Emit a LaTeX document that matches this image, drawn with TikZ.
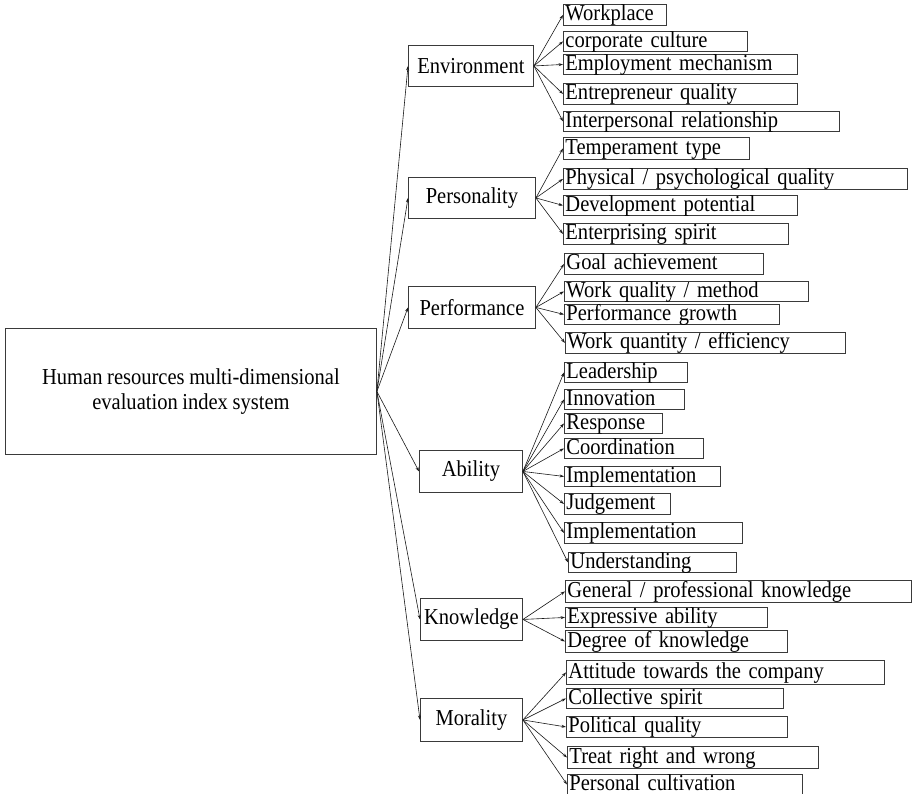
\documentclass[tikz,border=0pt]{standalone}
\usepackage{fontspec}
\setmainfont[FakeStretch=0.9, WordSpace=0.9]{Liberation Serif}
\usetikzlibrary{arrows.meta}
\definecolor{boxc}{HTML}{3A3A3A}
\definecolor{linec}{HTML}{1A1A1A}
\newcommand\dfont{\fontsize{22.8pt}{25.5pt}\selectfont}
\begin{document}
\begin{tikzpicture}[x=1pt,y=-1pt,
  box/.style={draw=boxc, line width=0.9pt, inner sep=0pt, anchor=north west, font=\dfont, align=center},
  leaf/.style={draw=boxc, line width=0.9pt, inner xsep=2pt, inner ysep=0pt, anchor=north west, font=\dfont, align=left, text height=15.8pt, text depth=4.2pt},
  conn/.style={draw=linec, line width=0.6pt, -{Stealth[length=4.5pt,width=3pt]}}]
\useasboundingbox[fill=white] (0,0) rectangle (912,794);

% root
\node[box, minimum width=371pt, minimum height=126pt] (root) at (5,328)
  {Human resources multi-dimensional\\evaluation index system};

% categories
\node[box, minimum width=125pt, minimum height=41pt] (env) at (408,45) {Environment};
\node[box, minimum width=127pt, minimum height=41pt] (per) at (408,177) {Personality};
\node[box, minimum width=127pt, minimum height=42pt] (perf) at (408,286) {Performance};
\node[box, minimum width=103pt, minimum height=42pt] (abi) at (419,450) {Ability};
\node[box, minimum width=102pt, minimum height=42pt] (kno) at (420,598) {Knowledge};
\node[box, minimum width=102pt, minimum height=43pt] (mor) at (420,698) {Morality};

% Environment leaves
\node[leaf, text width=99pt,  minimum height=21pt] (e1) at (563,4)   {Workplace};
\node[leaf, text width=180pt, minimum height=19pt] (e2) at (563,31)  {corporate culture};
\node[leaf, text width=230pt, minimum height=20pt] (e3) at (563,54)  {Employment mechanism};
\node[leaf, text width=230pt, minimum height=21pt] (e4) at (563,83)  {Entrepreneur quality};
\node[leaf, text width=272pt, minimum height=20pt] (e5) at (563,111) {Interpersonal relationship};
% Personality leaves
\node[leaf, text width=182pt, minimum height=22pt] (p1) at (563,137) {Temperament type};
\node[leaf, text width=340pt, minimum height=21pt] (p2) at (563,168) {Physical / psychological quality};
\node[leaf, text width=230pt, minimum height=20pt] (p3) at (563,195) {Development potential};
\node[leaf, text width=221pt, minimum height=21pt] (p4) at (563,223) {Enterprising spirit};
% Performance leaves
\node[leaf, text width=195pt, minimum height=21pt] (f1) at (564,253) {Goal achievement};
\node[leaf, text width=240pt, minimum height=19pt] (f2) at (564,281) {Work quality / method};
\node[leaf, text width=211pt, minimum height=19pt] (f3) at (564,304) {Performance growth};
\node[leaf, text width=276pt, minimum height=21pt] (f4) at (565,332) {Work quantity / efficiency};
% Ability leaves
\node[leaf, text width=119pt, minimum height=19pt] (a1) at (564,362) {Leadership};
\node[leaf, text width=116pt, minimum height=17pt] (a2) at (564,389) {Innovation};
\node[leaf, text width=94pt,  minimum height=20pt] (a3) at (564,413) {Response};
\node[leaf, text width=135pt, minimum height=20pt] (a4) at (564,438) {Coordination};
\node[leaf, text width=152pt, minimum height=19pt] (a5) at (564,466) {Implementation};
\node[leaf, text width=102pt, minimum height=21pt] (a6) at (564,493) {Judgement};
\node[leaf, text width=174pt, minimum height=21pt] (a7) at (564,522) {Implementation};
\node[leaf, text width=164pt, minimum height=20pt] (a8) at (568,552) {Understanding};
% Knowledge leaves
\node[leaf, text width=342pt, minimum height=22pt] (k1) at (565,580) {General / professional knowledge};
\node[leaf, text width=198pt, minimum height=19pt] (k2) at (565,607) {Expressive ability};
\node[leaf, text width=218pt, minimum height=22pt] (k3) at (565,630) {Degree of knowledge};
% Morality leaves
\node[leaf, text width=314pt, minimum height=24pt] (m1) at (566,660) {Attitude towards the company};
\node[leaf, text width=213pt, minimum height=20pt] (m2) at (566,688) {Collective spirit};
\node[leaf, text width=217pt, minimum height=21pt] (m3) at (566,716) {Political quality};
\node[leaf, text width=247pt, minimum height=22pt] (m4) at (567,746) {Treat right and wrong};
\node[leaf, text width=231pt, minimum height=19pt] (m5) at (567,774) {Personal cultivation};

% connectors
\foreach \c in {env,per,perf,abi,kno,mor}
  \draw[conn] (root.east) -- (\c.west);
\foreach \l in {e1,e2,e3,e4,e5}
  \draw[conn] (env.east) -- (\l.west);
\foreach \l in {p1,p2,p3,p4}
  \draw[conn] (per.east) -- (\l.west);
\foreach \l in {f1,f2,f3,f4}
  \draw[conn] (perf.east) -- (\l.west);
\foreach \l in {a1,a2,a3,a4,a5,a6,a7,a8}
  \draw[conn] (abi.east) -- (\l.west);
\foreach \l in {k1,k2,k3}
  \draw[conn] (kno.east) -- (\l.west);
\foreach \l in {m1,m2,m3,m4,m5}
  \draw[conn] (mor.east) -- (\l.west);
\end{tikzpicture}
\end{document}
